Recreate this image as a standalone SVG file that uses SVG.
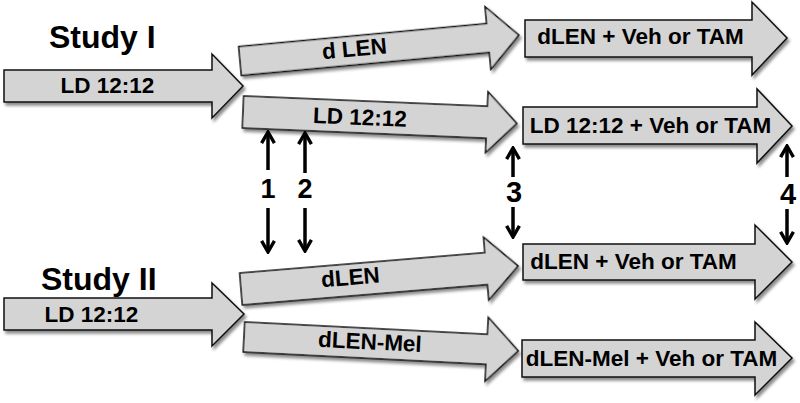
<svg xmlns="http://www.w3.org/2000/svg" width="800" height="403" viewBox="0 0 800 403">
<defs>
<filter id="sh" x="-10%" y="-20%" width="120%" height="150%">
<feDropShadow dx="2" dy="3" stdDeviation="1.8" flood-color="#000" flood-opacity="0.45"/>
</filter>
<marker id="ah" viewBox="0 0 10 10" refX="9" refY="5" markerWidth="16" markerHeight="16" markerUnits="userSpaceOnUse" orient="auto">
<path d="M2,1 L9,5 L2,9" fill="none" stroke="#000" stroke-width="2.1"/>
</marker>
</defs>
<style>
.arr{fill:#d4d4d4;stroke:#111;stroke-width:1.5;stroke-linejoin:miter;filter:url(#sh)}
.t{font-family:"Liberation Sans",Arial,sans-serif;font-weight:bold;fill:#000}
.lb{font-size:22.5px;text-anchor:middle}
.ttl{font-size:32px}
.num{font-size:27px;text-anchor:middle}
.num2{font-size:29px;text-anchor:middle}
.v{stroke:#000;stroke-width:3.5;fill:none;marker-end:url(#ah)}
</style>
<rect width="800" height="403" fill="#fff"/>

<text class="t ttl" x="49" y="48">Study I</text>
<text class="t ttl" x="41" y="290">Study II</text>

<g id="s1-ld">
<polygon class="arr" points="4,70 212,70 212,54 243,86 212,118 212,102 4,102"/>
<text class="t lb" x="107.5" y="93">LD 12:12</text>
</g>

<g id="s1-dlen" transform="translate(240,61) rotate(-5.3)">
<polygon class="arr" points="0,-14.5 249,-14.5 249,-31.5 280,0 249,31.5 249,14.5 0,14.5"/>
<text class="t lb" x="115" y="6">d LEN</text>
</g>

<g id="s1-ld2" transform="translate(243,112) rotate(2.4)">
<polygon class="arr" points="0,-16 244,-16 244,-30.5 274,0 244,30.5 244,16 0,16"/>
<text class="t lb" x="117" y="8">LD 12:12</text>
</g>

<g id="s1-r1">
<polygon class="arr" points="525,20 752,20 752,2 787,38 752,75 752,57 525,57"/>
<text class="t lb" x="640.5" y="44">dLEN + Veh or TAM</text>
</g>

<g id="s1-r2">
<polygon class="arr" points="523,107 757,107 757,89 792,126 757,163 757,144 523,144"/>
<text class="t lb" x="650.5" y="133">LD 12:12 + Veh or TAM</text>
</g>

<g id="s2-ld">
<polygon class="arr" points="4,298 212,298 212,283 244,314 212,346 212,330 4,330"/>
<text class="t lb" x="91.5" y="322">LD 12:12</text>
</g>

<g id="s2-dlen" transform="translate(241,289) rotate(-4.75)">
<polygon class="arr" points="0,-16 246,-16 246,-31.5 278,0 246,31.5 246,16 0,16"/>
<text class="t lb" x="110" y="5">dLEN</text>
</g>

<g id="s2-dlenmel" transform="translate(244,337) rotate(2.9)">
<polygon class="arr" points="0,-15 243,-15 243,-32 274.5,0 243,32 243,15 0,15"/>
<text class="t lb" x="126" y="6">dLEN-Mel</text>
</g>

<g id="s2-r1">
<polygon class="arr" points="523,244 755,244 755,225 792,262 755,299 755,280 523,280"/>
<text class="t lb" x="633.5" y="269">dLEN + Veh or TAM</text>
</g>

<g id="s2-r2">
<polygon class="arr" points="522,340 755,340 755,322 792,358 755,395 755,377 522,377"/>
<text class="t lb" x="651.5" y="366">dLEN-Mel + Veh or TAM</text>
</g>

<g id="connectors">
<line class="v" x1="268" y1="170" x2="268" y2="132"/>
<line class="v" x1="268" y1="208" x2="268" y2="252"/>
<line class="v" x1="305" y1="173" x2="305" y2="133"/>
<line class="v" x1="305" y1="208" x2="305" y2="251"/>
<line class="v" x1="513" y1="177" x2="513" y2="148"/>
<line class="v" x1="513" y1="207" x2="513" y2="237"/>
<line class="v" x1="787" y1="177" x2="787" y2="146"/>
<line class="v" x1="787" y1="209" x2="787" y2="243"/>
</g>
<text class="t num" x="268" y="198">1</text>
<text class="t num" x="305" y="198">2</text>
<text class="t num2" x="514" y="202">3</text>
<text class="t num2" x="788" y="204">4</text>
</svg>
